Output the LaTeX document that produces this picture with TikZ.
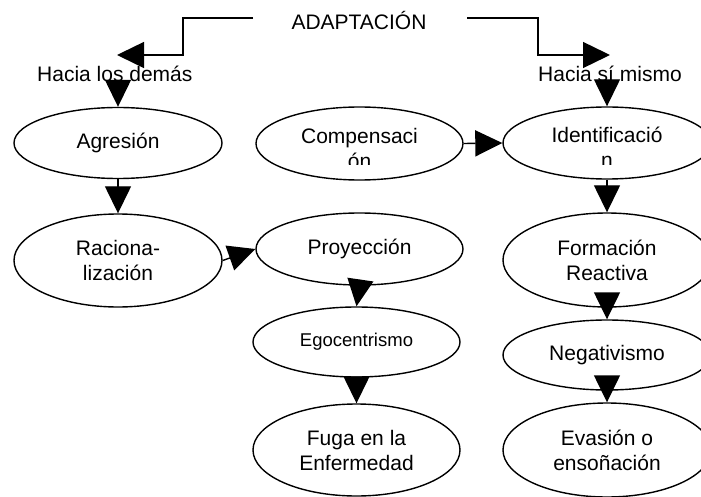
\documentclass[tikz,border=0pt]{standalone}
\usepackage{fontspec}
\setmainfont{Liberation Sans}
\usetikzlibrary{shapes.geometric,arrows.meta}
\newcommand\mainfs{\fontsize{21}{25}\selectfont}
\newcommand\egofs{\fontsize{18.5}{22}\selectfont}
\begin{document}
\begin{tikzpicture}[x=1pt,y=-1pt,
  oval/.style={ellipse, draw, line width=1.4pt, inner sep=0pt, align=center, font=\mainfs},
  arr/.style={line width=1.4pt, -{Triangle[length=27pt,width=26pt]}},
  lab/.style={inner sep=0pt, font=\mainfs}]
\useasboundingbox (0,0) rectangle (701,497);
\fill[white] (0,0) rectangle (701,497);
\clip (0,0) rectangle (701,497);

% labels
\node[lab] (adapt) at (359,20) {ADAPTACIÓN};
\node[lab, anchor=base west] (demas) at (37,82) {Hacia los demás};
\node[lab, anchor=base west] (mismo) at (538,82) {Hacia sí mismo};

% ellipses
\node[oval, minimum width=208pt, minimum height=71pt] (agre) at (118,143) {Agresión};
\node[oval, minimum width=207pt, minimum height=73pt] (comp) at (359.5,143.5) {};
\node[oval, minimum width=208pt, minimum height=72pt] (iden) at (607,143) {};
\node[oval, minimum width=208pt, minimum height=93pt] (raci) at (118,260.5) {Raciona-\\lización};
\node[oval, minimum width=207pt, minimum height=72pt] (proy) at (359.5,249) {Proyección};
\node[oval, minimum width=208pt, minimum height=94pt] (form) at (607,260) {Formación\\Reactiva};
\node[oval, minimum width=207pt, minimum height=70pt, font=\egofs] (egoc) at (356.5,342) {Egocentrismo};
\node[oval, minimum width=208pt, minimum height=70pt] (nega) at (607,355) {Negativismo};
\node[oval, minimum width=207pt, minimum height=92pt] (fuga) at (356.5,450) {Fuga en la\\Enfermedad};
\node[oval, minimum width=208pt, minimum height=94pt] (evas) at (607,450) {Evasión o\\ensoñación};

% clipped texts
\begin{scope}
  \clip (250,100) rectangle (470,164.5);
  \node[lab, anchor=north, align=center] (comptext) at (359.5,128.5) {Compensaci\\ón};
\end{scope}
\begin{scope}
  \clip (500,100) rectangle (701,164.5);
  \node[lab, anchor=north, align=center] (identext) at (607,127) {Identificació\\n};
\end{scope}

% top connectors
\coordinate (l0) at (253,18);
\coordinate (l1) at (117,55);
\coordinate (r0) at (467,18);
\coordinate (r1) at (610,55);
\draw[arr] (l0) -- (183,18) |- (l1);
\draw[arr] (r0) -- (538,18) |- (r1);

% connectors
\draw[arr] (agre.north |- demas.south) -- (agre.north);
\draw[arr] (iden.north |- mismo.south) -- (iden.north);
\draw[arr] (agre.south) -- (raci.north);
\draw[arr] (comp.east) -- (iden.west);
\draw[arr] (iden.south) -- (form.north);
\draw[arr] (raci.east) -- (proy.west);
\draw[arr] (proy.south) -- (egoc.north);
\draw[arr] (egoc.south) -- (fuga.north);
\draw[arr] (form.south) -- (nega.north);
\draw[arr] (nega.south) -- (evas.north);
\end{tikzpicture}
\end{document}
